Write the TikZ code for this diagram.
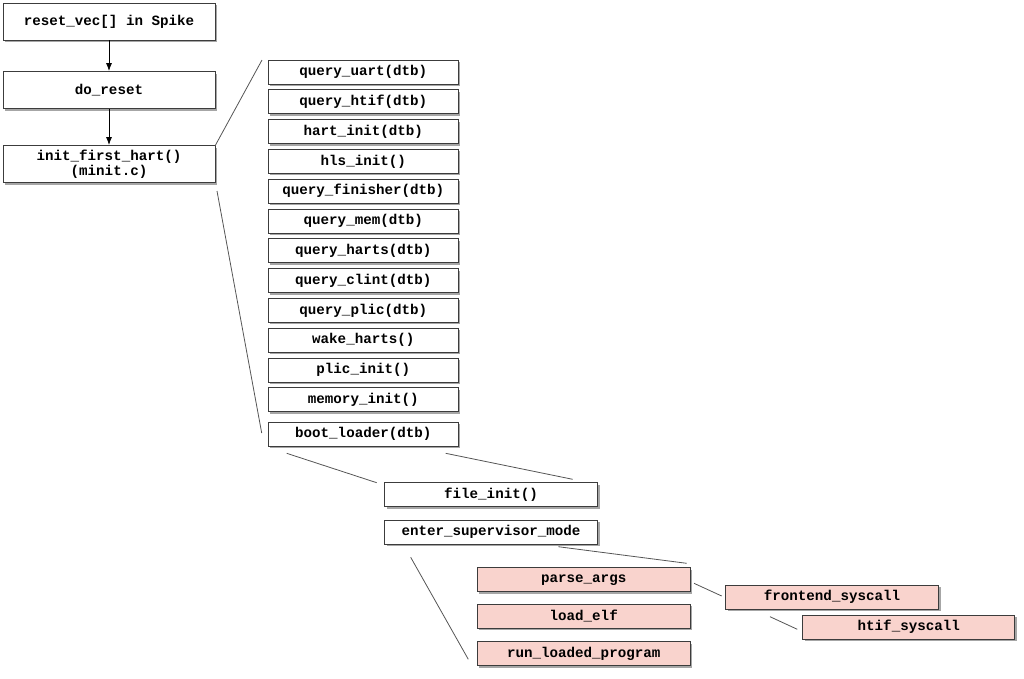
\documentclass[tikz,border=0pt]{standalone}
\usepackage{fontspec}
\newfontfamily\boxfont{Liberation Mono}
\usetikzlibrary{shadows,arrows.meta}
\definecolor{pinkfill}{RGB}{249,211,205}
\definecolor{edgegray}{RGB}{60,60,60}
\definecolor{zoomgray}{RGB}{85,85,85}
\tikzset{
  fbox/.style={draw=edgegray, fill=white, line width=0.9pt, inner sep=0pt,
    minimum width=190pt, minimum height=24pt, align=center,
    font=\boxfont\bfseries\fontsize{14.2}{15.5}\selectfont,
    drop shadow={shadow xshift=2pt, shadow yshift=-2pt, fill=black!50, opacity=0.7}},
  bigbox/.style={fbox, minimum width=212pt, minimum height=37pt},
  midbox/.style={fbox, minimum width=213pt},
  pbox/.style={fbox, fill=pinkfill, minimum width=213pt},
  zoomline/.style={draw=zoomgray, line width=0.8pt},
  callarrow/.style={draw=black, line width=0.8pt, -{Latex[length=8pt,width=6pt]}}
}
\begin{document}
\begin{tikzpicture}[x=1pt,y=-1pt]
\useasboundingbox (0,0) rectangle (1024,678);
% left column
\node[bigbox] (rv) at (109,21.5) {reset\_vec[] in Spike};
\node[bigbox] (dr) at (109,90) {do\_reset};
\node[bigbox] (ifh) at (109,164) {init\_first\_hart()\\(minit.c)};
\draw[callarrow] (rv.south) -- (dr.north);
\draw[callarrow] (dr.south) -- (ifh.north);
% right column
\node[fbox] (qu) at (363.3,72) {query\_uart(dtb)};
\node[fbox] (qh) at (363.3,101.8) {query\_htif(dtb)};
\node[fbox] (hi) at (363.3,131.6) {hart\_init(dtb)};
\node[fbox] (hl) at (363.3,161.4) {hls\_init()};
\node[fbox] (qf) at (363.3,191.2) {query\_finisher(dtb)};
\node[fbox] (qm) at (363.3,221) {query\_mem(dtb)};
\node[fbox] (qa) at (363.3,250.8) {query\_harts(dtb)};
\node[fbox] (qc) at (363.3,280.6) {query\_clint(dtb)};
\node[fbox] (qp) at (363.3,310.4) {query\_plic(dtb)};
\node[fbox] (wh) at (363.3,340.2) {wake\_harts()};
\node[fbox] (pi) at (363.3,370) {plic\_init()};
\node[fbox] (mi) at (363.3,399.8) {memory\_init()};
\node[fbox] (bl) at (363.3,434) {boot\_loader(dtb)};
% boot loader children
\node[midbox] (fi) at (491,494.7) {file\_init()};
\node[midbox] (es) at (491,532.2) {enter\_supervisor\_mode};
% supervisor children
\node[pbox] (pa) at (583.7,579.7) {parse\_args};
\node[pbox] (le) at (583.7,616.3) {load\_elf};
\node[pbox] (rl) at (583.7,653.8) {run\_loaded\_program};
\node[pbox] (fs) at (832,597) {frontend\_syscall};
\node[pbox, minimum width=212pt] (hs) at (908.8,627) {htif\_syscall};
% zoom lines
\coordinate (z1a) at (215,146);
\coordinate (z1b) at (262,60);
\coordinate (z2a) at (217,191);
\coordinate (z2b) at (261.7,433);
\coordinate (z3a) at (286.7,453.3);
\coordinate (z3b) at (376.7,482.7);
\coordinate (z4a) at (445.7,453.3);
\coordinate (z4b) at (572.7,479.3);
\coordinate (z5a) at (558.3,546.7);
\coordinate (z5b) at (686.7,563.3);
\coordinate (z6a) at (410.7,557.3);
\coordinate (z6b) at (468.3,659.3);
\coordinate (z7a) at (694,583.3);
\coordinate (z7b) at (721.7,596);
\coordinate (z8a) at (770,616.7);
\coordinate (z8b) at (797.3,629.3);
\draw[zoomline] (z1a) -- (z1b);
\draw[zoomline] (z2a) -- (z2b);
\draw[zoomline] (z3a) -- (z3b);
\draw[zoomline] (z4a) -- (z4b);
\draw[zoomline] (z5a) -- (z5b);
\draw[zoomline] (z6a) -- (z6b);
\draw[zoomline] (z7a) -- (z7b);
\draw[zoomline] (z8a) -- (z8b);
\end{tikzpicture}
\end{document}
